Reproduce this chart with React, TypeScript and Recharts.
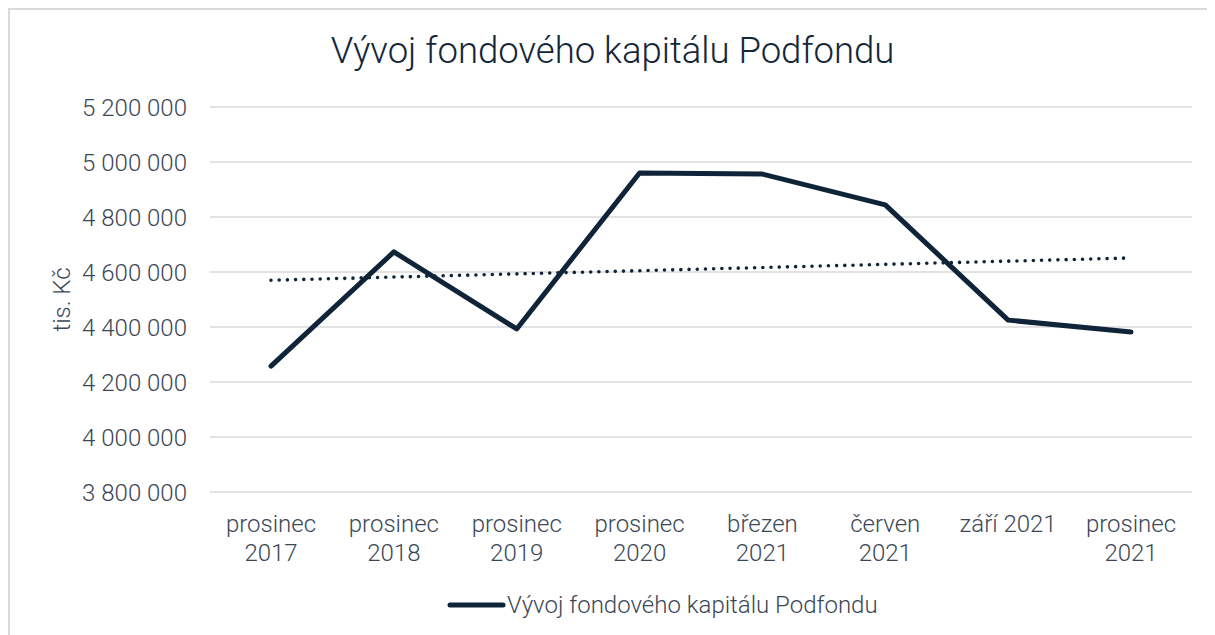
import { CartesianGrid, Legend, Line, LineChart, ReferenceLine, XAxis, YAxis } from "recharts";

const categories = [
  "prosinec\n2017",
  "prosinec\n2018",
  "prosinec\n2019",
  "prosinec\n2020",
  "březen\n2021",
  "červen\n2021",
  "září 2021",
  "prosinec\n2021"
];
const capital = [4258000, 4673000, 4393000, 4960000, 4956000, 4844000, 4425000, 4382000];
// linear trend as drawn in the source, first and last category
const trendEnds = [4570000, 4651000];
const yTicks = [3800000, 4000000, 4200000, 4400000, 4600000, 4800000, 5000000, 5200000];

const seriesName = "Vývoj fondového kapitálu Podfondu";
const title = "Vývoj fondového kapitálu Podfondu";

const data = categories.map((label, i) => ({ label, capital: capital[i] }));

const FONT = "Roboto, 'Noto Sans', sans-serif";
const LINE = "#0f2439";
const TEXT = "#3b4756";

const fmt = (v: number) => String(v).replace(/\B(?=(\d{3})+(?!\d))/g, " ");

function CategoryTick({ x, y, payload }: any) {
  const lines = String(payload.value).split("\n");
  return (
    <text x={x} y={y} textAnchor="middle" fill={TEXT} fontSize={24} fontWeight={300} fontFamily={FONT}>
      {lines.map((l, i) => (
        <tspan key={i} x={x} dy={i === 0 ? 32 : 29}>
          {l}
        </tspan>
      ))}
    </text>
  );
}

function AxisTitle({ viewBox }: any) {
  const cy = viewBox.y + viewBox.height / 2;
  return (
    <text
      transform={`translate(52, ${cy}) rotate(-90)`}
      textAnchor="middle"
      dominantBaseline="central"
      fill={TEXT}
      fontSize={24}
      fontWeight={300}
      fontFamily={FONT}
    >
      tis. Kč
    </text>
  );
}

function LegendContent({ payload }: any) {
  const items = (payload || []).filter((p: any) => p.value === seriesName);
  return (
    <div style={{ height: 60, display: "flex", alignItems: "center", paddingLeft: 437 }}>
      {items.map((p: any) => (
        <div key={p.value} style={{ display: "flex", alignItems: "center" }}>
          <svg width={60} height={10}>
            <line x1={3} y1={5} x2={56} y2={5} stroke={LINE} strokeWidth={5} strokeLinecap="round" />
          </svg>
          <span style={{ fontSize: 24, fontWeight: 300, color: TEXT, fontFamily: FONT }}>{p.value}</span>
        </div>
      ))}
    </div>
  );
}

export default function App() {
  return (
    <div
      style={{
        position: "relative",
        width: 1207,
        height: 627,
        boxSizing: "border-box",
        borderTop: "2px solid #d9d9d9",
        borderLeft: "2px solid #d9d9d9",
        background: "#fff",
        fontFamily: FONT
      }}
    >
      <LineChart width={1205} height={625} data={data} margin={{ top: 97, right: 23, left: 0, bottom: 0 }}>
        <CartesianGrid vertical={false} stroke="#d9d9d9" strokeWidth={1.5} />
        <XAxis
          dataKey="label"
          height={83}
          axisLine={false}
          tickLine={false}
          interval={0}
          padding={{ left: 61, right: 61 }}
          tick={<CategoryTick />}
        />
        <YAxis
          width={200}
          domain={[3800000, 5200000]}
          ticks={yTicks}
          axisLine={false}
          tickLine={false}
          tickMargin={17}
          tickFormatter={fmt}
          tick={{ fontSize: 24, fontWeight: 300, fill: TEXT, fontFamily: FONT }}
          label={(props: any) => <AxisTitle {...props} />}
        />
        <ReferenceLine
          segment={[
            { x: categories[0], y: trendEnds[0] },
            { x: categories[categories.length - 1], y: trendEnds[1] }
          ]}
          stroke={LINE}
          strokeWidth={3.6}
          strokeDasharray="0 8.2"
          strokeLinecap="round"
        />
        <Line
          dataKey="capital"
          name={seriesName}
          type="linear"
          stroke={LINE}
          strokeWidth={5}
          strokeLinecap="round"
          strokeLinejoin="round"
          dot={false}
          activeDot={false}
          isAnimationActive={false}
        />
        <Legend
          verticalAlign="bottom"
          wrapperStyle={{ left: 0, width: 1205 }}
          content={<LegendContent />}
        />
      </LineChart>
      <div
        style={{
          position: "absolute",
          top: 23,
          left: 0,
          width: 1205,
          textAlign: "center",
          fontSize: 36.5,
          lineHeight: "36.5px",
          fontWeight: 300,
          color: "#14263a",
          pointerEvents: "none"
        }}
      >
        {title}
      </div>
    </div>
  );
}
